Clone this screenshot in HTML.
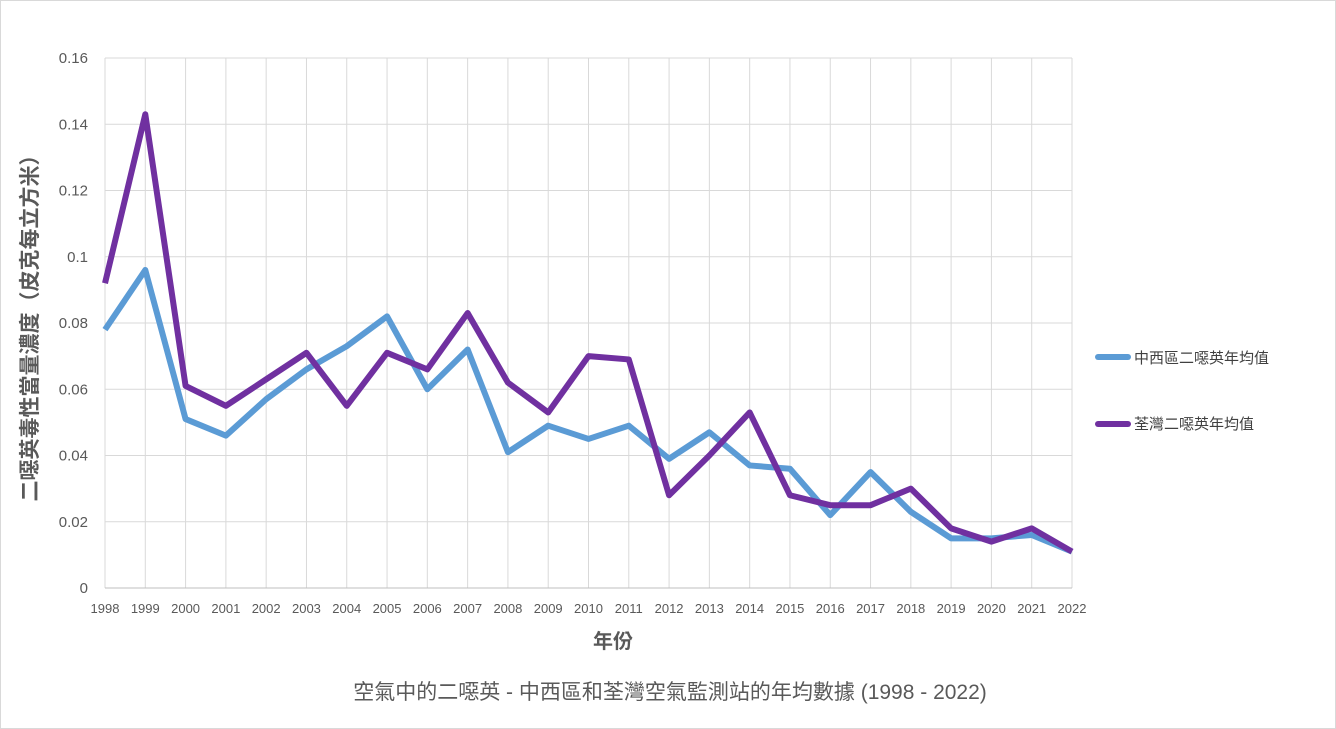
<!DOCTYPE html>
<html><head><meta charset="utf-8">
<style>
body{margin:0;background:#fff;}
svg{display:block;font-family:"Liberation Sans","Noto Sans CJK TC",sans-serif;}
</style></head>
<body>
<svg id="chart" width="1336" height="729" viewBox="0 0 1336 729">
<rect x="0.5" y="0.5" width="1335" height="728" fill="#fff" stroke="#d9d9d9"/>
<g id="grid"></g><g id="axes"></g><g id="series"></g>
<text x="37" y="323" transform="rotate(-90 37 323)" text-anchor="middle" font-size="21" font-weight="bold" fill="#595959">二噁英毒性當量濃度（皮克每立方米）</text>
<text x="613" y="648" text-anchor="middle" font-size="20" font-weight="bold" fill="#595959">年份</text>
<text x="670" y="699" text-anchor="middle" font-size="21" fill="#595959">空氣中的二噁英 - 中西區和荃灣空氣監測站的年均數據 (1998 - 2022)</text>
<g>
<line x1="1098" y1="357" x2="1128" y2="357" stroke="#5b9bd5" stroke-width="6" stroke-linecap="round"/>
<text x="1134" y="363" font-size="15" fill="#404040">中西區二噁英年均值</text>
<line x1="1098" y1="424" x2="1128" y2="424" stroke="#7030a0" stroke-width="6" stroke-linecap="round"/>
<text x="1134" y="429" font-size="15" fill="#404040">荃灣二噁英年均值</text>
</g>
</svg>
<script>
const years=[1998,1999,2000,2001,2002,2003,2004,2005,2006,2007,2008,2009,2010,2011,2012,2013,2014,2015,2016,2017,2018,2019,2020,2021,2022];
const centralWestern=[0.078,0.096,0.051,0.046,0.057,0.066,0.073,0.082,0.060,0.072,0.041,0.049,0.045,0.049,0.039,0.047,0.037,0.036,0.022,0.035,0.023,0.015,0.015,0.016,0.011];
const tsuenWan=[0.092,0.143,0.061,0.055,0.063,0.071,0.055,0.071,0.066,0.083,0.062,0.053,0.070,0.069,0.028,0.040,0.053,0.028,0.025,0.025,0.030,0.018,0.014,0.018,0.011];
const yTicks=[0,0.02,0.04,0.06,0.08,0.1,0.12,0.14,0.16];
const yTickLabels=["0","0.02","0.04","0.06","0.08","0.1","0.12","0.14","0.16"];
const NS="http://www.w3.org/2000/svg";
const X0=105,X1=1072,Y0=588,Y1=58;
const xs=i=>X0+(X1-X0)*i/(years.length-1);
const ys=v=>Y0-(Y0-Y1)*v/0.16;
function mk(t,a,p){const e=document.createElementNS(NS,t);for(const k in a)e.setAttribute(k,a[k]);p.appendChild(e);return e;}
const grid=document.getElementById('grid'),axes=document.getElementById('axes'),ser=document.getElementById('series');
yTicks.forEach((v,i)=>{
 const l=mk('line',{x1:X0,x2:X1,y1:ys(v),y2:ys(v),stroke:'#d9d9d9','stroke-width':1},grid);
 
 
 const t=mk('text',{x:88,y:ys(v)+5,'text-anchor':'end','font-size':15,fill:'#595959'},axes);
 t.textContent=yTickLabels[i];
 
 
});
years.forEach((y,i)=>{
 const l=mk('line',{x1:xs(i),x2:xs(i),y1:Y1,y2:Y0,stroke:'#d9d9d9','stroke-width':1},grid);
 
 
 const t=mk('text',{x:xs(i),y:613,'text-anchor':'middle','font-size':13,fill:'#595959'},axes);
 t.textContent=y;
 
 
});
const ax=mk('line',{x1:X0,x2:X1,y1:Y0,y2:Y0,stroke:'#bfbfbf','stroke-width':1},axes);


function line(data,color,name){
 const p=mk('polyline',{points:data.map((v,i)=>xs(i)+','+ys(v)).join(' '),fill:'none',stroke:color,'stroke-width':6,'stroke-linejoin':'round'},ser);
 
 
}
line(centralWestern,'#5b9bd5','central-western-line');
line(tsuenWan,'#7030a0','tsuen-wan-line');
</script>
</body></html>
